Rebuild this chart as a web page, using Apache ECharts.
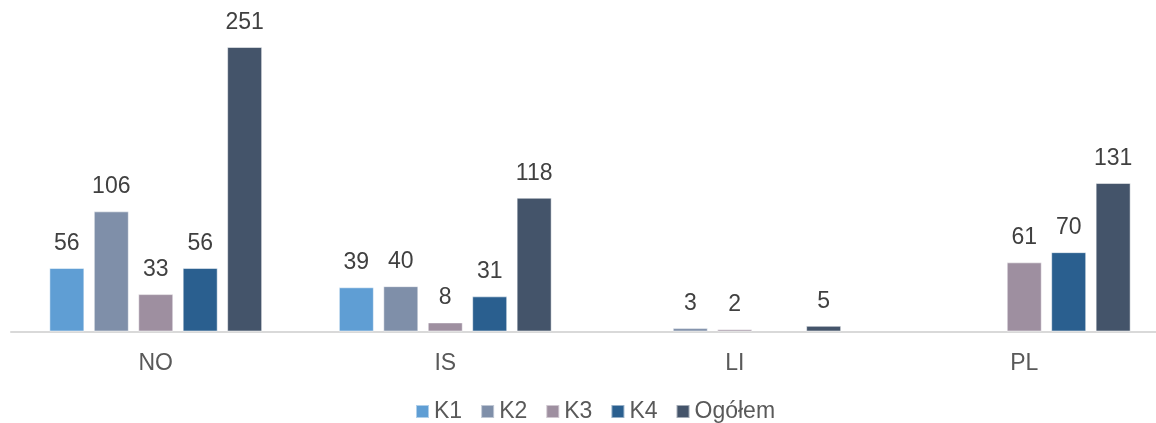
<!DOCTYPE html>
<html>
<head>
<meta charset="utf-8">
<script src="https://cdn.jsdelivr.net/npm/echarts@6/dist/echarts.min.js"></script>
<style>
  html, body { margin: 0; padding: 0; background: #fff; overflow: hidden; width: 1156px; height: 423px; }
  #chart { width: 1169px; height: 423px; }
</style>
</head>
<body>
<div id="chart"></div>
<script>
const categories = ['NO', 'IS', 'LI', 'PL'];
const seriesNames = ['K1', 'K2', 'K3', 'K4', 'Ogółem'];
const k1 = [56, 39, null, null];
const k2 = [106, 40, 3, null];
const k3 = [33, 8, 2, 61];
const k4 = [56, 31, null, 70];
const ogolem = [251, 118, 5, 131];
const colors = ['#5f9ed4', '#7f8fa9', '#9e8fa0', '#2a5f8f', '#44546a'];

// the source chart runs past the right edge, so the div is a bit wider than the window
const chart = echarts.init(document.getElementById('chart'));
const values = [k1, k2, k3, k4, ogolem];

chart.setOption({
  animation: false,
  color: colors,
  textStyle: { fontFamily: 'Liberation Sans, Arial, sans-serif' },
  grid: { left: 11, right: 0, top: 47, bottom: 91.5 },
  legend: {
    data: seriesNames,
    top: 395,
    left: 410,
    icon: 'rect',
    itemWidth: 13,
    itemHeight: 13,
    itemGap: 18,
    textStyle: { fontSize: 23, color: '#595959' }
  },
  xAxis: {
    type: 'category',
    data: categories,
    axisLine: { lineStyle: { color: '#d9d9d9', width: 2 } },
    axisTick: { show: false },
    axisLabel: { fontSize: 23, color: '#595959', margin: 21 }
  },
  yAxis: {
    type: 'value',
    min: 0,
    max: 251,
    show: false,
    splitLine: { show: false }
  },
  series: seriesNames.map((name, i) => ({
    name: name,
    type: 'bar',
    data: values[i],
    barWidth: 35,
    barGap: '27%',
    itemStyle: { borderColor: 'rgba(255,255,255,0.5)', borderWidth: 1 },
    label: {
      show: true,
      position: 'top',
      distance: 13,
      fontSize: 23,
      color: '#404040'
    }
  }))
});
</script>
</body>
</html>
